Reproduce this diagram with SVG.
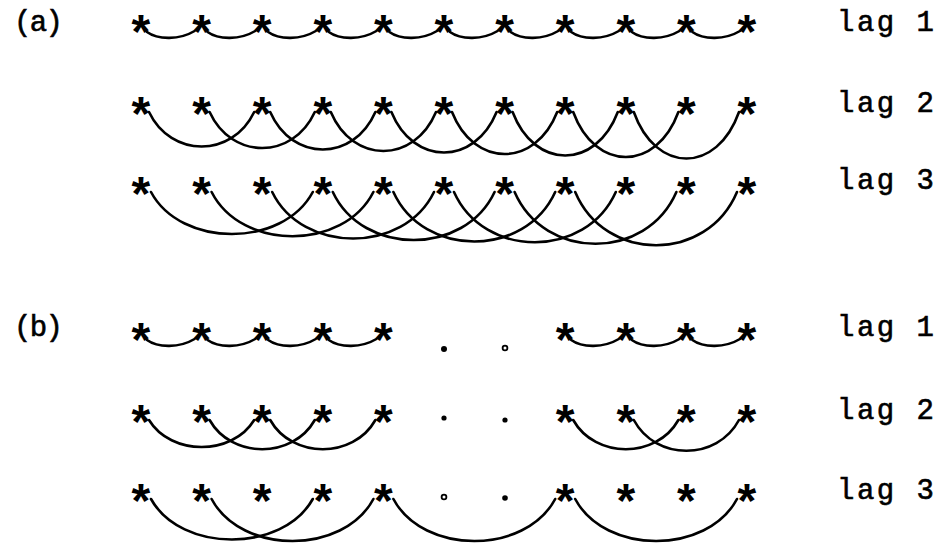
<svg xmlns="http://www.w3.org/2000/svg" width="944" height="547" viewBox="0 0 944 547">
<style>
.st{font-family:"Liberation Mono","DejaVu Sans Mono",monospace;font-weight:bold;font-size:48px;text-anchor:middle;fill:#000}
.lb{font-family:"Liberation Mono","DejaVu Sans Mono",monospace;font-size:29px;fill:#000;stroke:#000;stroke-width:0.6}
.arc{fill:none;stroke:#000;stroke-width:2.6;stroke-linecap:round}
.dot{fill:#000}
.odot{fill:#fff;stroke:#000;stroke-width:1.8}
</style>
<rect width="944" height="547" fill="#fff"/>
<text class="lb" x="14" y="31" textLength="49" lengthAdjust="spacing">(a)</text>
<text class="lb" x="14" y="336" textLength="49" lengthAdjust="spacing">(b)</text>
<g id="labels">
<text class="lb" x="837" y="31" textLength="97" lengthAdjust="spacing">lag 1</text>
<text class="lb" x="837" y="112" textLength="97" lengthAdjust="spacing">lag 2</text>
<text class="lb" x="837" y="189" textLength="97" lengthAdjust="spacing">lag 3</text>
<text class="lb" x="837" y="336" textLength="97" lengthAdjust="spacing">lag 1</text>
<text class="lb" x="837" y="419" textLength="97" lengthAdjust="spacing">lag 2</text>
<text class="lb" x="837" y="499" textLength="97" lengthAdjust="spacing">lag 3</text>
</g>
<g id="connectors">
<g id="arcs-a1">
<path class="arc" d="M147,32 C158,40 179.6,40 194.6,31"/>
<path class="arc" d="M207.6,32 C218.6,40 240.2,40 255.2,31"/>
<path class="arc" d="M268.2,32 C279.2,40 300.8,40 315.8,31"/>
<path class="arc" d="M328.8,32 C339.8,40 361.4,40 376.4,31"/>
<path class="arc" d="M389.4,32 C400.4,40 422,40 437,31"/>
<path class="arc" d="M450,32 C461,40 482.6,40 497.6,31"/>
<path class="arc" d="M510.6,32 C521.6,40 543.2,40 558.2,31"/>
<path class="arc" d="M571.2,32 C582.2,40 603.8,40 618.8,31"/>
<path class="arc" d="M631.8,32 C642.8,40 664.4,40 679.4,31"/>
<path class="arc" d="M692.4,32 C703.4,40 725,40 740,31"/>
</g>
<g id="arcs-a2">
<path class="arc" d="M149,112 C171,158 232.2,158 254.2,112"/>
<path class="arc" d="M209.6,112 C231.6,160 292.8,160 314.8,112"/>
<path class="arc" d="M270.2,112 C292.2,162 353.4,162 375.4,112"/>
<path class="arc" d="M330.8,112 C352.8,164 414,164 436,112"/>
<path class="arc" d="M391.4,112 C413.4,166 474.6,166 496.6,112"/>
<path class="arc" d="M452,112 C474,168 535.2,168 557.2,112"/>
<path class="arc" d="M512.6,112 C534.6,170 595.8,170 617.8,112"/>
<path class="arc" d="M573.2,112 C595.2,172 656.4,172 678.4,112"/>
<path class="arc" d="M633.8,112 C655.8,174 717,174 739,112"/>
</g>
<g id="arcs-a3">
<path class="arc" d="M151,192 C181,248 282.8,248 312.8,192"/>
<path class="arc" d="M211.6,192 C241.6,251 343.4,251 373.4,192"/>
<path class="arc" d="M272.2,192 C302.2,254 404,254 434,192"/>
<path class="arc" d="M332.8,192 C362.8,256 464.6,256 494.6,192"/>
<path class="arc" d="M393.4,192 C423.4,258 525.2,258 555.2,192"/>
<path class="arc" d="M454,192 C484,259 585.8,259 615.8,192"/>
<path class="arc" d="M514.6,192 C544.6,261 646.4,261 676.4,192"/>
<path class="arc" d="M575.2,192 C605.2,263 707,263 737,192"/>
</g>
<g id="arcs-b1">
<path class="arc" d="M147,340 C158,348 179.6,348 194.6,339"/>
<path class="arc" d="M207.6,340 C218.6,348 240.2,348 255.2,339"/>
<path class="arc" d="M268.2,340 C279.2,348 300.8,348 315.8,339"/>
<path class="arc" d="M328.8,340 C339.8,348 361.4,348 376.4,339"/>
<path class="arc" d="M571.2,340 C582.2,348 603.8,348 618.8,339"/>
<path class="arc" d="M631.8,340 C642.8,348 664.4,348 679.4,339"/>
<path class="arc" d="M692.4,340 C703.4,348 725,348 740,339"/>
</g>
<g id="arcs-b2">
<path class="arc" d="M149,420 C171,456 232.2,456 254.2,420"/>
<path class="arc" d="M209.6,420 C231.6,459 292.8,459 314.8,420"/>
<path class="arc" d="M270.2,420 C292.2,459 353.4,459 375.4,420"/>
<path class="arc" d="M573.2,420 C595.2,459 656.4,459 678.4,420"/>
<path class="arc" d="M633.8,420 C655.8,461 717,461 739,420"/>
</g>
<g id="arcs-b3">
<path class="arc" d="M151,499 C181,553 282.8,553 312.8,499"/>
<path class="arc" d="M211.6,499 C241.6,555 343.4,555 373.4,499"/>
<path class="arc" d="M393.4,499 C423.4,555 525.2,555 555.2,499"/>
<path class="arc" d="M575.2,499 C605.2,555 707,555 737,499"/>
</g>
</g>
<g id="row-a1" class="st">
<text x="141" y="50">*</text><text x="201.6" y="50">*</text><text x="262.2" y="50">*</text><text x="322.8" y="50">*</text><text x="383.4" y="50">*</text><text x="444" y="50">*</text><text x="504.6" y="50">*</text><text x="565.2" y="50">*</text><text x="625.8" y="50">*</text><text x="686.4" y="50">*</text><text x="747" y="50">*</text>
</g>
<g id="row-a2" class="st">
<text x="141" y="132">*</text><text x="201.6" y="132">*</text><text x="262.2" y="132">*</text><text x="322.8" y="132">*</text><text x="383.4" y="132">*</text><text x="444" y="132">*</text><text x="504.6" y="132">*</text><text x="565.2" y="132">*</text><text x="625.8" y="132">*</text><text x="686.4" y="132">*</text><text x="747" y="132">*</text>
</g>
<g id="row-a3" class="st">
<text x="141" y="212">*</text><text x="201.6" y="212">*</text><text x="262.2" y="212">*</text><text x="322.8" y="212">*</text><text x="383.4" y="212">*</text><text x="444" y="212">*</text><text x="504.6" y="212">*</text><text x="565.2" y="212">*</text><text x="625.8" y="212">*</text><text x="686.4" y="212">*</text><text x="747" y="212">*</text>
</g>
<g id="row-b1">
<g class="st"><text x="141" y="358">*</text><text x="201.6" y="358">*</text><text x="262.2" y="358">*</text><text x="322.8" y="358">*</text><text x="383.4" y="358">*</text><text x="565.2" y="358">*</text><text x="625.8" y="358">*</text><text x="686.4" y="358">*</text><text x="747" y="358">*</text></g>
<circle class="dot" cx="444" cy="349" r="3"/>
<circle class="odot" cx="505" cy="348" r="2.4"/>
</g>
<g id="row-b2">
<g class="st"><text x="141" y="440">*</text><text x="201.6" y="440">*</text><text x="262.2" y="440">*</text><text x="322.8" y="440">*</text><text x="383.4" y="440">*</text><text x="565.2" y="440">*</text><text x="625.8" y="440">*</text><text x="686.4" y="440">*</text><text x="747" y="440">*</text></g>
<circle class="dot" cx="444" cy="418" r="2.6"/>
<circle class="dot" cx="505" cy="420" r="2.6"/>
</g>
<g id="row-b3">
<g class="st"><text x="141" y="519">*</text><text x="201.6" y="519">*</text><text x="262.2" y="519">*</text><text x="322.8" y="519">*</text><text x="383.4" y="519">*</text><text x="565.2" y="519">*</text><text x="625.8" y="519">*</text><text x="686.4" y="519">*</text><text x="747" y="519">*</text></g>
<circle class="odot" cx="444" cy="497" r="2.4"/>
<circle class="dot" cx="505" cy="498" r="2.8"/>
</g>
</svg>
